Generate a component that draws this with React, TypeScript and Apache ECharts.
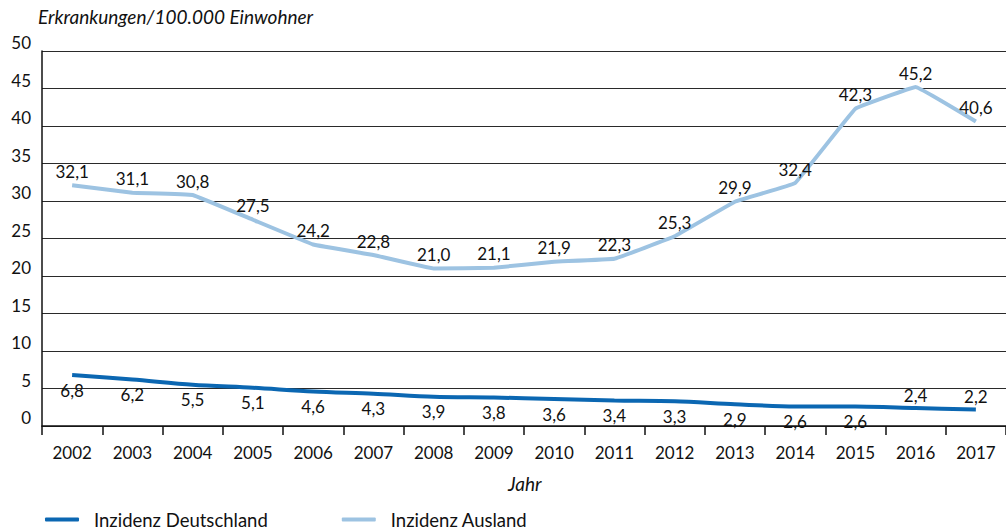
import React, { useEffect, useRef } from "react";
import * as echarts from "echarts";

const years = ["2002","2003","2004","2005","2006","2007","2008","2009","2010","2011","2012","2013","2014","2015","2016","2017"];
const deutschland = [6.8, 6.2, 5.5, 5.1, 4.6, 4.3, 3.9, 3.8, 3.6, 3.4, 3.3, 2.9, 2.6, 2.6, 2.4, 2.2];
const ausland = [32.1, 31.1, 30.8, 27.5, 24.2, 22.8, 21.0, 21.1, 21.9, 22.3, 25.3, 29.9, 32.4, 42.3, 45.2, 40.6];
const deutschlandAbove = ["2016", "2017"];

const FONT = "Lato";
const DARK = "#0b67b2";
const LIGHT = "#9dc3e2";

const fmt = (v: number) => v.toFixed(1).replace(".", ",");

export default function App() {
  const ref = useRef<HTMLDivElement>(null);
  useEffect(() => {
    document.body.style.margin = "0";
    const chart = echarts.init(ref.current!, undefined, { renderer: "svg" });
    const labelStyle = { show: true, fontFamily: FONT, fontSize: 17, color: "#111" };
    chart.setOption({
      animation: false,
      textStyle: { fontFamily: FONT },
      grid: { left: 42, right: 0, top: 51, bottom: 103 },
      legend: {
        bottom: -5,
        left: 40,
        itemGap: 74,
        itemWidth: 34,
        itemHeight: 4,
        icon: "roundRect",
        textStyle: { fontFamily: FONT, fontSize: 18.5, color: "#111", padding: [0, 0, 0, 10] },
        data: [
          { name: "Inzidenz Deutschland", itemStyle: { color: DARK } },
          { name: "Inzidenz Ausland", itemStyle: { color: LIGHT } },
        ],
      },
      graphic: [
        { type: "text", left: 38, top: 7, style: { text: "Erkrankungen/100.000 Einwohner", fontFamily: FONT, fontStyle: "italic", fontSize: 19, fill: "#111" } },
        { type: "text", left: 508, top: 474, style: { text: "Jahr", fontFamily: FONT, fontStyle: "italic", fontSize: 19, fill: "#111" } },
      ],
      xAxis: {
        type: "category",
        data: years,
        boundaryGap: true,
        axisLine: { lineStyle: { color: "#111", width: 1.5 } },
        axisTick: { show: true, length: 9, lineStyle: { color: "#111", width: 1.5 } },
        axisLabel: { fontFamily: FONT, fontSize: 17, color: "#111", margin: 18 },
      },
      yAxis: {
        type: "value",
        min: 0,
        max: 50,
        interval: 5,
        axisLine: { show: true, lineStyle: { color: "#111", width: 1.5 } },
        axisTick: { show: false },
        axisLabel: { fontFamily: FONT, fontSize: 17, color: "#111", margin: 11, verticalAlign: "bottom" },
        splitLine: { lineStyle: { color: "#2a2a2a", width: 1.2 } },
      },
      series: [
        {
          name: "Inzidenz Deutschland",
          type: "line",
          smooth: 0.3,
          symbol: "circle",
          symbolSize: 1,
          showSymbol: true,
          itemStyle: { color: "rgba(0,0,0,0)", borderWidth: 0 },
          lineStyle: { width: 4, color: DARK },
          data: deutschland.map((v, i) => ({
            value: v,
            label: deutschlandAbove.includes(years[i])
              ? { ...labelStyle, position: "top", distance: 4 }
              : { ...labelStyle, position: "bottom", distance: 6 },
          })),
          label: { ...labelStyle, formatter: (p: any) => fmt(p.value) },
        },
        {
          name: "Inzidenz Ausland",
          type: "line",
          smooth: 0.05,
          symbol: "circle",
          symbolSize: 1,
          showSymbol: true,
          itemStyle: { color: "rgba(0,0,0,0)", borderWidth: 0 },
          lineStyle: { width: 4, color: LIGHT },
          data: ausland,
          label: { ...labelStyle, position: "top", distance: 5, formatter: (p: any) => fmt(p.value) },
        },
      ],
    });
    return () => chart.dispose();
  }, []);
  return <div ref={ref} style={{ width: 1006, height: 529 }} />;
}
